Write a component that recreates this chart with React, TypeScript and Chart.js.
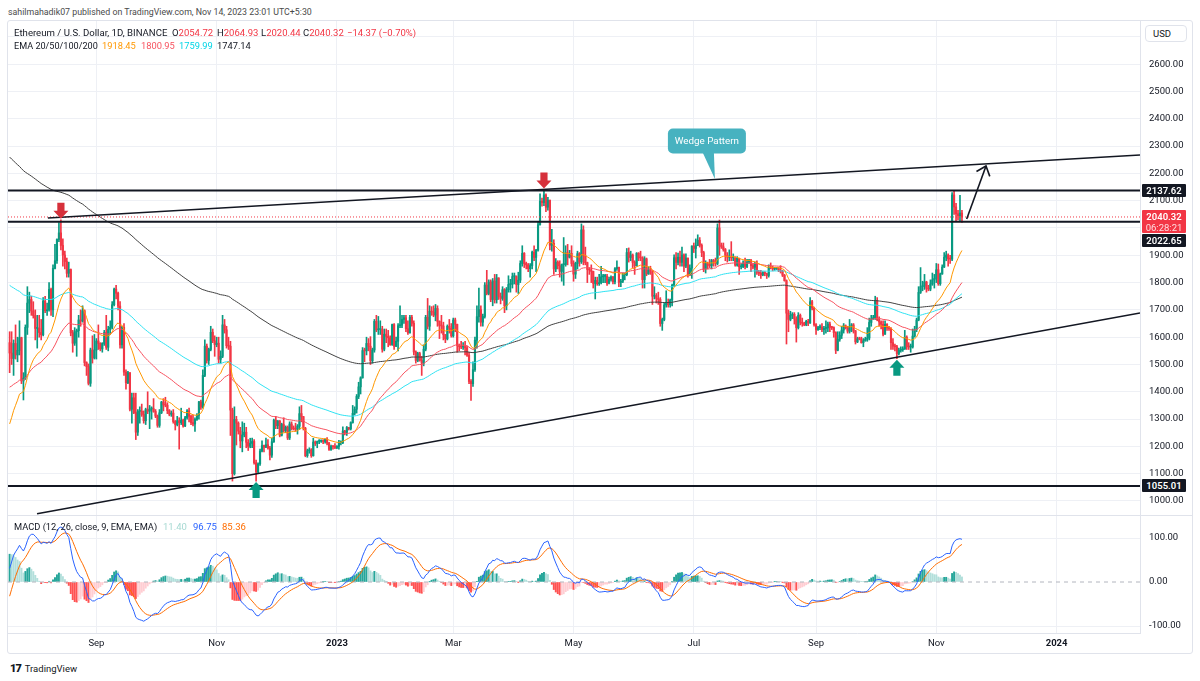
import React, { useEffect, useRef, useState } from "react";
import { Chart, registerables } from "chart.js";
Chart.register(...registerables);

// ---------------- DATA (ETH/USD daily, Binance, from 19 Jul 2022 to 14 Nov 2023) ----------------
const firstOpen = 1580;
const closes: number[] = [
  // 2022-07 (19..31)
  1542,1522,1577,1535,1552,1598,1440,1450,1636,1725,1738,1696,1679,
  // 2022-08
  1632,1633,1617,1609,1732,1697,1700,1775,1700,1852,1880,1958,1982,1936,1901,1877,1834,1848,1616,1578,1620,1624,1663,1659,1697,1507,1492,1431,1553,1524,1553,
  // 2022-09
  1586,1577,1557,1577,1617,1563,1629,1636,1719,1776,1761,1714,1572,1636,1472,1433,1470,1336,1378,1324,1252,1328,1329,1317,1294,1335,1329,1337,1338,1328,
  // 2022-10
  1311,1277,1323,1362,1352,1351,1331,1318,1322,1291,1280,1294,1287,1296,1275,1305,1330,1310,1287,1282,1299,1314,1363,1344,1460,1567,1515,1555,1618,1587,1573,
  // 2022-11
  1578,1519,1530,1645,1627,1569,1567,1333,1100,1299,1285,1256,1220,1242,1252,1215,1200,1211,1218,1140,1107,1136,1183,1203,1197,1206,1194,1168,1217,1296,
  // 2022-12
  1276,1293,1241,1280,1258,1270,1231,1282,1265,1264,1263,1274,1320,1309,1266,1166,1184,1187,1166,1216,1211,1218,1219,1221,1218,1226,1212,1189,1200,1199,1196,
  // 2023-01
  1200,1214,1214,1256,1251,1269,1264,1287,1321,1336,1383,1418,1451,1551,1550,1577,1567,1514,1553,1658,1627,1628,1628,1556,1611,1603,1598,1573,1646,1567,1585,
  // 2023-02
  1642,1644,1665,1671,1631,1616,1673,1651,1546,1515,1540,1515,1505,1556,1673,1640,1695,1692,1681,1705,1658,1643,1641,1609,1594,1640,1633,1605,
  // 2023-03
  1663,1647,1569,1566,1564,1566,1561,1534,1438,1430,1481,1589,1675,1701,1655,1676,1791,1760,1802,1738,1806,1737,1817,1750,1742,1774,1715,1774,1793,1794,1822,
  // 2023-04
  1822,1793,1809,1870,1907,1870,1865,1851,1862,1911,1892,1919,2012,2098,2093,2121,2076,2102,1937,1944,1850,1875,1862,1841,1866,1866,1909,1893,1907,1870,
  // 2023-05
  1831,1870,1906,1876,1993,1898,1873,1848,1846,1841,1797,1808,1796,1800,1821,1823,1823,1798,1812,1820,1803,1851,1856,1801,1805,1829,1829,1910,1892,1901,1874,
  // 2023-06
  1862,1907,1891,1890,1811,1887,1832,1847,1839,1750,1752,1742,1738,1650,1665,1718,1726,1719,1736,1790,1891,1874,1893,1874,1901,1860,1890,1828,1853,1934,
  // 2023-07
  1925,1936,1955,1937,1910,1850,1870,1864,1862,1880,1878,1870,2000,1937,1931,1921,1900,1893,1894,1891,1891,1864,1889,1858,1859,1871,1859,1875,1882,1862,1856,
  // 2023-08
  1870,1838,1834,1828,1838,1833,1826,1856,1854,1850,1850,1853,1845,1842,1827,1807,1688,1665,1680,1684,1667,1635,1680,1654,1651,1645,1658,1652,1730,1707,1646,
  // 2023-09
  1628,1635,1637,1628,1632,1634,1648,1636,1635,1617,1552,1592,1607,1626,1642,1635,1622,1639,1645,1623,1583,1594,1593,1580,1587,1593,1597,1654,1667,1671,
  // 2023-10
  1733,1664,1656,1647,1611,1647,1634,1632,1580,1567,1565,1540,1552,1554,1557,1600,1565,1564,1564,1604,1628,1663,1764,1785,1787,1802,1779,1776,1795,1810,1815,
  // 2023-11 (1..14)
  1847,1796,1832,1857,1893,1901,1887,1886,2121,2077,2052,2045,2054.72,2040.32,
];
const highs: number[] = [
  1620,1620,1590,1645,1600,1660,1600,1470,1645,1785,1765,1750,1730,
  1700,1680,1680,1665,1745,1750,1725,1800,1780,1865,1940,1960,2020,2030,1960,1915,1890,1875,1850,1625,1635,1630,1680,1700,1715,1700,1510,1502,1560,1605,1610,
  1595,1645,1580,1580,1625,1680,1640,1660,1730,1780,1790,1765,1730,1640,1650,1480,1475,1470,1395,1395,1395,1335,1345,1355,1330,1340,1400,1350,1345,1375,
  1335,1315,1335,1365,1375,1380,1360,1335,1330,1335,1295,1310,1305,1340,1300,1310,1335,1340,1315,1315,1305,1320,1365,1370,1480,1590,1575,1560,1640,1630,1605,
  1600,1600,1550,1680,1665,1640,1600,1585,1340,1345,1310,1290,1270,1290,1285,1270,1225,1230,1230,1225,1150,1140,1190,1220,1205,1230,1225,1200,1230,1300,
  1310,1295,1295,1285,1305,1275,1275,1290,1290,1275,1285,1280,1345,1350,1310,1270,1190,1195,1192,1230,1220,1220,1225,1224,1225,1228,1232,1215,1205,1202,1210,
  1203,1222,1220,1272,1259,1273,1270,1290,1350,1345,1390,1435,1455,1562,1560,1600,1595,1602,1560,1665,1680,1676,1660,1640,1630,1630,1625,1605,1648,1650,1600,
  1650,1715,1680,1680,1680,1660,1680,1680,1660,1550,1545,1545,1530,1572,1680,1742,1715,1712,1715,1720,1715,1660,1680,1655,1610,1645,1665,1650,
  1670,1670,1648,1575,1585,1580,1585,1567,1545,1445,1510,1600,1715,1780,1715,1685,1800,1845,1810,1810,1815,1830,1830,1818,1762,1785,1778,1782,1825,1812,1835,
  1835,1825,1838,1880,1935,1910,1875,1870,1870,1915,1935,1922,2022,2125,2110,2141,2125,2112,2102,1995,1957,1888,1880,1880,1868,1965,1935,1940,1918,1935,
  1880,1875,1915,1910,2015,2008,1930,1875,1855,1865,1842,1820,1820,1830,1860,1830,1830,1830,1820,1825,1823,1855,1880,1857,1812,1835,1835,1925,1927,1915,1905,
  1880,1910,1910,1915,1895,1895,1890,1858,1860,1845,1785,1760,1765,1745,1670,1725,1770,1740,1740,1795,1902,1910,1908,1915,1930,1905,1905,1890,1865,1935,
  1945,1960,1975,1965,1942,1915,1880,1875,1885,1885,1885,1890,2015,2029,1945,1945,1925,1910,1920,1950,1905,1895,1895,1890,1870,1880,1890,1885,1885,1885,1870,
  1875,1880,1845,1845,1840,1840,1835,1865,1872,1860,1855,1855,1855,1862,1845,1830,1810,1700,1695,1690,1690,1675,1690,1685,1670,1655,1662,1665,1745,1735,1710,
  1650,1640,1645,1650,1640,1660,1655,1655,1640,1638,1620,1620,1620,1640,1650,1645,1640,1665,1650,1650,1625,1600,1600,1600,1595,1600,1635,1670,1680,1680,
  1750,1745,1675,1660,1660,1660,1650,1640,1635,1595,1575,1570,1560,1565,1565,1625,1605,1580,1575,1630,1640,1670,1785,1855,1805,1830,1805,1790,1810,1835,1830,
  1870,1868,1835,1865,1910,1915,1905,1900,2130,2137,2090,2065,2120,2064.93,
];
const lows: number[] = [
  1470,1500,1460,1520,1510,1535,1430,1370,1445,1610,1690,1680,1670,
  1590,1560,1600,1590,1605,1690,1680,1695,1680,1675,1850,1870,1950,1920,1860,1850,1820,1820,1605,1545,1570,1530,1600,1640,1655,1495,1460,1425,1420,1505,1520,
  1520,1555,1550,1545,1570,1555,1550,1610,1630,1715,1740,1700,1560,1560,1460,1410,1430,1330,1285,1320,1225,1240,1285,1310,1285,1280,1320,1265,1300,1325,
  1305,1270,1270,1320,1330,1345,1320,1312,1310,1285,1260,1275,1190,1280,1270,1272,1300,1290,1280,1275,1255,1295,1300,1335,1340,1455,1505,1500,1550,1580,1530,
  1565,1505,1505,1525,1615,1560,1555,1240,1073,1095,1205,1245,1195,1180,1235,1195,1185,1195,1195,1135,1073,1100,1130,1180,1180,1195,1190,1150,1160,1215,
  1265,1265,1235,1238,1252,1250,1225,1225,1260,1260,1255,1245,1262,1290,1260,1162,1160,1175,1160,1164,1203,1195,1210,1215,1210,1212,1205,1185,1185,1190,1192,
  1192,1190,1205,1210,1242,1240,1260,1260,1285,1315,1322,1375,1392,1450,1510,1535,1550,1500,1505,1545,1620,1610,1610,1545,1550,1580,1565,1570,1570,1555,1565,
  1550,1635,1635,1650,1620,1610,1615,1640,1535,1505,1510,1512,1460,1495,1550,1630,1625,1680,1675,1660,1640,1595,1615,1590,1580,1590,1615,1600,
  1600,1620,1545,1550,1558,1555,1535,1530,1430,1368,1420,1475,1560,1655,1640,1640,1670,1755,1755,1730,1715,1725,1725,1738,1722,1735,1690,1700,1765,1765,1780,
  1795,1765,1760,1800,1860,1855,1850,1840,1820,1850,1880,1840,1915,2010,2080,2082,2060,2065,1920,1915,1830,1840,1850,1820,1805,1790,1860,1865,1890,1860,
  1805,1815,1850,1860,1870,1865,1865,1800,1830,1800,1780,1740,1790,1790,1795,1800,1800,1790,1795,1805,1795,1795,1845,1785,1785,1800,1810,1825,1875,1880,1855,
  1830,1860,1880,1880,1780,1780,1825,1830,1830,1720,1740,1725,1720,1640,1625,1660,1710,1710,1710,1715,1785,1850,1865,1860,1860,1840,1855,1820,1825,1815,
  1910,1890,1935,1930,1895,1840,1835,1850,1855,1850,1860,1860,1865,1900,1925,1915,1880,1875,1880,1880,1880,1860,1860,1830,1850,1855,1850,1855,1870,1840,1850,
  1820,1830,1825,1815,1825,1825,1815,1820,1850,1843,1845,1848,1840,1835,1822,1805,1575,1620,1660,1668,1648,1582,1630,1645,1640,1642,1642,1642,1650,1700,1640,
  1610,1625,1628,1620,1610,1615,1620,1620,1628,1600,1540,1550,1585,1595,1615,1630,1615,1615,1620,1615,1575,1580,1590,1578,1565,1585,1585,1590,1640,1665,
  1665,1660,1640,1630,1605,1610,1625,1625,1555,1555,1550,1521,1535,1545,1548,1555,1555,1555,1545,1560,1600,1620,1660,1760,1770,1775,1765,1770,1770,1790,1780,
  1800,1790,1790,1830,1855,1880,1860,1870,1880,2050,2025,2030,2025,2020.44,
];

// time-axis ticks (day index counted from 19 Jul 2022)
const monthTickDays = [44, 105, 166, 225, 286, 347, 409, 470, 531];
const monthTickLabels = ["Sep", "Nov", "2023", "Mar", "May", "Jul", "Sep", "Nov", "2024"];
const priceTicks = [1000, 1100, 1200, 1300, 1400, 1500, 1600, 1700, 1800, 1900, 2000, 2100, 2200, 2300, 2400, 2500, 2600, 2700];
const macdTicks = [-100, 0, 100];

// indicators: EMA 20/50/100/200 and MACD(12,26,9); starting values read at the left edge
const emaPeriods = [20, 50, 100, 200];
const emaSeeds = [1255, 1412, 1795, 2267];
const emaColors = ["#FF9800", "#F7525F", "#2EE2F2", "#404040"];
const macdSeeds = [1270, 1260, -48]; // fast EMA, slow EMA, signal

// legend texts
const ohlcLetters = ["O", "H", "L", "C"];
const ohlcValues = ["2054.72", "2064.93", "2020.44", "2040.32"];
const changeText = "−14.37 (−0.70%)";
const emaLegendValues = ["1918.45", "1800.95", "1759.99", "1747.14"];
const macdLegendValues = ["11.40", "96.75", "85.36"];

// drawings
const levelPrices = [2137.62, 2022.65, 1055.01];
const lastPrice = 2040.32;
const upperWedge = [{ x: 19.4, y: 2036.6 }, { x: 573.3, y: 2267.4 }];
const lowerWedge = [{ x: 13.9, y: 953 }, { x: 573.3, y: 1688.6 }];
const targetArrow = [{ x: 485.4, y: 2033 }, { x: 495.2, y: 2227 }];
const sellMarkerDays = [26, 271];
const buyMarkerDays = [125, 450];
const calloutPoint = { x: 357.7, y: 2179.5 };

// ---------------- STYLE / LAYOUT ----------------
const FONT = 'Roboto, "Noto Sans", "DejaVu Sans", sans-serif';
const UP = "#089981";
const DOWN = "#F23645";
const GRID = "#EEF0F5";
const INK = "#131722";
const FS = 9.5;
const X_MIN = -0.83, X_MAX = 573.3;
const P_MIN = 948.7, P_MAX = 2758.2;
const M_MIN = -115.9, M_MAX = 150;
const PRICE_BOX = { left: 8, top: 21, width: 1184, height: 494 };
const MACD_BOX = { left: 8, top: 516, width: 1184, height: 137 };
const AXIS_W = 52;
const OHLC_X = [172, 217, 261, 303];
const CHANGE_X = 347;
const EMA_VAL_X = [102, 141, 179, 217];
const EMA_VAL_COLORS = ["#FF9800", "#F7525F", "#00D5E6", INK];
const MACD_VAL_X = [163, 193, 222];
const MACD_VAL_COLORS = ["#A6D9D2", "#2962FF", "#FF6D00"];

function ema(values: number[], period: number, seed: number) {
  const k = 2 / (period + 1);
  let e = seed;
  return values.map((v) => (e = v * k + e * (1 - k)));
}

function blockArrow(ctx: CanvasRenderingContext2D, x: number, tipY: number, dir: number, color: string) {
  const headH = 8, stemH = 8, headW = 7.5, stemW = 3.6;
  ctx.beginPath();
  ctx.moveTo(x, tipY);
  ctx.lineTo(x + headW, tipY - dir * headH);
  ctx.lineTo(x + stemW, tipY - dir * headH);
  ctx.lineTo(x + stemW, tipY - dir * (headH + stemH));
  ctx.lineTo(x - stemW, tipY - dir * (headH + stemH));
  ctx.lineTo(x - stemW, tipY - dir * headH);
  ctx.lineTo(x - headW, tipY - dir * headH);
  ctx.closePath();
  ctx.fillStyle = color;
  ctx.fill();
}

export default function App() {
  const priceRef = useRef<HTMLCanvasElement | null>(null);
  const macdRef = useRef<HTMLCanvasElement | null>(null);
  const [pos, setPos] = useState<any>(null);

  useEffect(() => {
    if (!priceRef.current || !macdRef.current) return;
    Chart.defaults.font.family = FONT;

    const opens = closes.map((c, i) => (i === 0 ? firstOpen : closes[i - 1]));
    const colors = closes.map((c, i) => (c >= opens[i] ? UP : DOWN));
    const wickData = closes.map((c, i) => ({
      x: i,
      y: [Math.min(lows[i] ?? c, opens[i], c), Math.max(highs[i] ?? c, opens[i], c)],
    }));
    const bodyData = closes.map((c, i) => ({ x: i, y: [Math.min(opens[i], c), Math.max(opens[i], c)] }));

    const emaSets = emaPeriods.map((p, j) => ({
      type: "line",
      data: ema(closes, p, emaSeeds[j]).map((y, i) => ({ x: i, y })),
      borderColor: emaColors[j],
      borderWidth: 1,
      pointRadius: 0,
      order: 2,
    }));

    const lineSet = (pts: any[], color: string, width: number, dash: number[] = [], order = 0) => ({
      type: "line",
      data: pts,
      borderColor: color,
      borderWidth: width,
      borderDash: dash,
      pointRadius: 0,
      order,
    });

    const levelSets = levelPrices.map((p) => lineSet([{ x: X_MIN, y: p }, { x: X_MAX, y: p }], INK, 2));
    const lastSet = lineSet([{ x: X_MIN, y: lastPrice }, { x: X_MAX, y: lastPrice }], DOWN, 1, [1, 2], 1);

    const overlay = {
      id: "overlay",
      afterDatasetsDraw(chart: any) {
        const { ctx, chartArea: a, scales } = chart;
        const xs = scales.x, ys = scales.y;
        ctx.save();
        ctx.beginPath();
        ctx.rect(a.left, a.top, a.right - a.left, a.bottom - a.top);
        ctx.clip();
        const p0 = { x: xs.getPixelForValue(targetArrow[0].x), y: ys.getPixelForValue(targetArrow[0].y) };
        const p1 = { x: xs.getPixelForValue(targetArrow[1].x), y: ys.getPixelForValue(targetArrow[1].y) };
        const ang = Math.atan2(p1.y - p0.y, p1.x - p0.x);
        ctx.strokeStyle = INK;
        ctx.lineWidth = 1.6;
        ctx.beginPath();
        ctx.moveTo(p1.x - 11 * Math.cos(ang - 0.7), p1.y - 11 * Math.sin(ang - 0.7));
        ctx.lineTo(p1.x, p1.y);
        ctx.lineTo(p1.x - 11 * Math.cos(ang + 0.7), p1.y - 11 * Math.sin(ang + 0.7));
        ctx.stroke();
        sellMarkerDays.forEach((d) =>
          blockArrow(ctx, xs.getPixelForValue(d), ys.getPixelForValue(highs[d]) - 1, 1, "#D6303B")
        );
        buyMarkerDays.forEach((d) =>
          blockArrow(ctx, xs.getPixelForValue(d), ys.getPixelForValue(lows[d]) + 1, -1, UP)
        );
        const cx = xs.getPixelForValue(calloutPoint.x), cy = ys.getPixelForValue(calloutPoint.y);
        ctx.fillStyle = "#47B2C0";
        ctx.beginPath();
        (ctx as any).roundRect(cx - 47, cy - 50.5, 78, 25, 5);
        ctx.fill();
        ctx.beginPath();
        ctx.moveTo(cx - 12, cy - 26);
        ctx.lineTo(cx - 1, cy - 26);
        ctx.lineTo(cx, cy);
        ctx.closePath();
        ctx.fill();
        ctx.restore();
      },
    };

    const price = new Chart(priceRef.current, {
      type: "bar",
      data: {
        datasets: [
          ...levelSets,
          lastSet,
          lineSet(upperWedge, INK, 1.6),
          lineSet(lowerWedge, INK, 1.6),
          lineSet(targetArrow, INK, 1.6),
          ...emaSets,
          {
            type: "bar",
            data: bodyData,
            backgroundColor: colors,
            barThickness: 1.5,
            grouped: false,
            minBarLength: 1,
            borderWidth: 0,
            order: 3,
          },
          {
            type: "bar",
            data: wickData,
            backgroundColor: colors,
            barThickness: 1,
            grouped: false,
            borderWidth: 0,
            order: 4,
          },
        ] as any,
      },
      options: {
        animation: false,
        responsive: false,
        maintainAspectRatio: false,
        devicePixelRatio: 1,
        events: [],
        layout: { padding: 0 },
        plugins: { legend: { display: false }, tooltip: { enabled: false } },
        scales: {
          x: {
            type: "linear",
            min: X_MIN,
            max: X_MAX,
            offset: false,
            grid: { color: GRID, drawTicks: false, offset: false },
            border: { display: false },
            ticks: { display: false },
            afterBuildTicks: (s: any) => {
              s.ticks = monthTickDays.map((v) => ({ value: v }));
            },
            afterFit: (s: any) => {
              s.height = 0;
              s.paddingLeft = 0;
              s.paddingRight = 0;
            },
          },
          y: {
            type: "linear",
            position: "right",
            min: P_MIN,
            max: P_MAX,
            beginAtZero: false,
            grid: { color: GRID, drawTicks: false },
            border: { display: true, color: "#E0E3EB" },
            ticks: {
              color: INK,
              font: { size: FS, family: FONT },
              padding: 9,
              autoSkip: false,
              callback: (v: any) => (Number(v) === 2700 ? "" : Number(v).toFixed(2)),
            },
            afterBuildTicks: (s: any) => {
              s.ticks = priceTicks.map((v) => ({ value: v }));
            },
            afterFit: (s: any) => {
              s.width = AXIS_W;
              s.paddingTop = 0;
              s.paddingBottom = 0;
            },
          },
        },
      } as any,
      plugins: [overlay],
    });

    const fast = ema(closes, 12, macdSeeds[0]);
    const slow = ema(closes, 26, macdSeeds[1]);
    const macd = fast.map((f, i) => f - slow[i]);
    const signal = ema(macd, 9, macdSeeds[2]);
    const hist = macd.map((m, i) => m - signal[i]);
    const histColors = hist.map((h, i) => {
      const prev = i === 0 ? -Infinity : hist[i - 1];
      if (h >= 0) return h >= prev ? "#26A69A" : "#B2DFDB";
      return h < prev ? "#FF5252" : "#FFCDD2";
    });

    const macdChart = new Chart(macdRef.current, {
      type: "bar",
      data: {
        datasets: [
          {
            type: "line",
            data: macd.map((y, i) => ({ x: i, y })),
            borderColor: "#2962FF",
            borderWidth: 1,
            pointRadius: 0,
            order: 0,
          },
          {
            type: "line",
            data: signal.map((y, i) => ({ x: i, y })),
            borderColor: "#FF6D00",
            borderWidth: 1,
            pointRadius: 0,
            order: 1,
          },
          {
            type: "line",
            data: [{ x: X_MIN, y: 0 }, { x: X_MAX, y: 0 }],
            borderColor: "#B2B5BE",
            borderWidth: 1,
            borderDash: [4, 4],
            pointRadius: 0,
            order: 2,
          },
          {
            type: "bar",
            data: hist.map((y, i) => ({ x: i, y })),
            backgroundColor: histColors,
            barThickness: 1.3,
            grouped: false,
            borderWidth: 0,
            order: 3,
          },
        ] as any,
      },
      options: {
        animation: false,
        responsive: false,
        maintainAspectRatio: false,
        devicePixelRatio: 1,
        events: [],
        layout: { padding: 0 },
        plugins: { legend: { display: false }, tooltip: { enabled: false } },
        scales: {
          x: {
            type: "linear",
            min: X_MIN,
            max: X_MAX,
            offset: false,
            grid: { color: GRID, drawTicks: false, offset: false },
            border: { display: true, color: "#E0E3EB" },
            ticks: {
              color: INK,
              padding: 5,
              autoSkip: false,
              maxRotation: 0,
              font: (c: any) => ({
                size: FS,
                family: FONT,
                weight: /^\d{4}$/.test(String(c?.tick?.label ?? "")) ? "bold" : "normal",
              }),
              callback: (_v: any, i: number) => monthTickLabels[i],
            },
            afterBuildTicks: (s: any) => {
              s.ticks = monthTickDays.map((v) => ({ value: v }));
            },
            afterFit: (s: any) => {
              s.height = 20;
              s.paddingLeft = 0;
              s.paddingRight = 0;
            },
          },
          y: {
            type: "linear",
            position: "right",
            min: M_MIN,
            max: M_MAX,
            beginAtZero: false,
            grid: { color: (c: any) => (c?.tick?.value === 0 ? "rgba(0,0,0,0)" : GRID), drawTicks: false },
            border: { display: true, color: "#E0E3EB" },
            ticks: {
              color: INK,
              font: { size: FS, family: FONT },
              padding: 9,
              autoSkip: false,
              callback: (v: any) => Number(v).toFixed(2),
            },
            afterBuildTicks: (s: any) => {
              s.ticks = macdTicks.map((v) => ({ value: v }));
            },
            afterFit: (s: any) => {
              s.width = AXIS_W;
              s.paddingTop = 0;
              s.paddingBottom = 0;
            },
          },
        },
      } as any,
    });

    const ys: any = price.scales.y;
    const xs: any = price.scales.x;
    setPos({
      axisLeft: ys.left,
      levels: levelPrices.map((p) => ys.getPixelForValue(p)),
      last: ys.getPixelForValue(lastPrice),
      cx: xs.getPixelForValue(calloutPoint.x),
      cy: ys.getPixelForValue(calloutPoint.y),
    });

    return () => {
      price.destroy();
      macdChart.destroy();
    };
  }, []);

  const tagBase: React.CSSProperties = {
    position: "absolute",
    width: 44,
    height: 13,
    lineHeight: "13px",
    fontSize: FS,
    fontWeight: 600,
    color: "#fff",
    background: INK,
    textAlign: "center",
    borderRadius: 1,
  };
  const tagLeft = pos ? PRICE_BOX.left + pos.axisLeft + 2 : 0;
  const txt = (left: number, top: number, size: number, color: string, content: string, key?: any) => (
    <div
      key={key}
      style={{ position: "absolute", left, top, fontSize: size, color, whiteSpace: "pre", lineHeight: "14px" }}
    >
      {content}
    </div>
  );

  return (
    <div
      style={{
        position: "absolute",
        left: 0,
        top: 0,
        width: 1200,
        height: 681,
        background: "#fff",
        fontFamily: FONT,
        color: INK,
        overflow: "hidden",
      }}
    >
      {txt(8, 5, 8.8, "#4A4A4A", "sahilmahadik07 published on TradingView.com, Nov 14, 2023 23:01 UTC+5:30")}
      <div
        style={{
          position: "absolute",
          left: 7,
          top: 20,
          width: 1184,
          height: 632,
          border: "1px solid #E0E3EB",
          borderRadius: 3,
        }}
      />
      <canvas
        ref={priceRef}
        width={PRICE_BOX.width}
        height={PRICE_BOX.height}
        style={{ position: "absolute", left: PRICE_BOX.left, top: PRICE_BOX.top, width: PRICE_BOX.width, height: PRICE_BOX.height }}
      />
      <div style={{ position: "absolute", left: 8, top: 515, width: 1184, height: 1, background: "#E0E3EB" }} />
      <canvas
        ref={macdRef}
        width={MACD_BOX.width}
        height={MACD_BOX.height}
        style={{ position: "absolute", left: MACD_BOX.left, top: MACD_BOX.top, width: MACD_BOX.width, height: MACD_BOX.height }}
      />

      {/* series legend */}
      {txt(14, 26, 9.6, INK, "Ethereum / U.S. Dollar, 1D, BINANCE")}
      {ohlcLetters.map((l, i) => (
        <div
          key={"o" + i}
          style={{ position: "absolute", left: OHLC_X[i], top: 26, fontSize: FS, whiteSpace: "pre", lineHeight: "14px" }}
        >
          <span style={{ color: INK }}>{l}</span>
          <span style={{ color: DOWN }}>{ohlcValues[i]}</span>
        </div>
      ))}
      {txt(CHANGE_X, 26, FS, DOWN, changeText)}
      {/* EMA legend */}
      {txt(14, 39, 9.1, INK, "EMA 20/50/100/200")}
      {emaLegendValues.map((v, i) => txt(EMA_VAL_X[i], 39, 9.3, EMA_VAL_COLORS[i], v, "e" + i))}
      {/* MACD legend */}
      {txt(14, 520, 9.3, INK, "MACD (12, 26, close, 9, EMA, EMA)")}
      {macdLegendValues.map((v, i) => txt(MACD_VAL_X[i], 520, FS, MACD_VAL_COLORS[i], v, "m" + i))}

      <div
        style={{
          position: "absolute",
          left: 1145,
          top: 25,
          width: 42,
          height: 17,
          border: "1px solid #E0E3EB",
          borderRadius: 4,
          fontSize: FS,
          lineHeight: "15px",
          paddingLeft: 7,
          boxSizing: "border-box",
          background: "#fff",
        }}
      >
        USD
      </div>

      {pos && (
        <>
          <div style={{ ...tagBase, left: tagLeft, top: PRICE_BOX.top + pos.levels[0] - 6.5 }}>2137.62</div>
          <div
            style={{
              ...tagBase,
              left: tagLeft,
              top: PRICE_BOX.top + pos.last - 6.5,
              height: 23,
              background: DOWN,
              lineHeight: "11px",
              paddingTop: 1,
              boxSizing: "border-box",
            }}
          >
            <div>2040.32</div>
            <div style={{ color: "#FFDDE0", fontWeight: 400 }}>06:28:21</div>
          </div>
          <div style={{ ...tagBase, left: tagLeft, top: PRICE_BOX.top + pos.last + 17.5 }}>2022.65</div>
          <div style={{ ...tagBase, left: tagLeft, top: PRICE_BOX.top + pos.levels[2] - 6.5 }}>1055.01</div>
          <div
            style={{
              position: "absolute",
              left: PRICE_BOX.left + pos.cx - 47,
              top: PRICE_BOX.top + pos.cy - 50.5,
              width: 78,
              height: 25,
              lineHeight: "25px",
              textAlign: "center",
              color: "#fff",
              fontSize: 9.8,
            }}
          >
            Wedge Pattern
          </div>
        </>
      )}

      <div style={{ position: "absolute", left: 10, top: 662, fontSize: FS, whiteSpace: "pre", lineHeight: "13px" }}>
        <span style={{ fontWeight: 900, fontSize: 11, letterSpacing: -1 }}>17</span>
        <span style={{ marginLeft: 4 }}>TradingView</span>
      </div>
    </div>
  );
}
